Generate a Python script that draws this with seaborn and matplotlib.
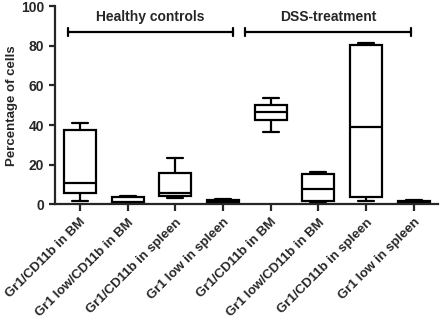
import numpy as np
import pandas as pd
import matplotlib
matplotlib.use("Agg")
import matplotlib.pyplot as plt
import seaborn as sns

# Five-number summaries (min, Q1, median, Q3, max) per population, % of cells
categories = [
    "Gr1/CD11b in BM", "Gr1 low/CD11b in BM", "Gr1/CD11b in spleen", "Gr1 low in spleen",
    "Gr1/CD11b in BM ", "Gr1 low/CD11b in BM ", "Gr1/CD11b in spleen ", "Gr1 low in spleen ",
]
tick_labels = [
    "Gr1/CD11b in BM", "Gr1 low/CD11b in BM", "Gr1/CD11b in spleen", "Gr1 low in spleen",
    "Gr1/CD11b in BM", "Gr1 low/CD11b in BM", "Gr1/CD11b in spleen", "Gr1 low in spleen",
]
hc_bm = [2.0, 5.9, 10.6, 37.5, 41.2]
hc_low_bm = [0.5, 0.8, 1.2, 3.9, 4.5]
hc_spleen = [3.4, 4.2, 5.9, 16.0, 23.4]
hc_low_spleen = [0.5, 0.8, 1.0, 2.2, 2.6]
dss_bm = [36.5, 42.5, 46.4, 49.9, 53.8]
dss_low_bm = [1.0, 1.7, 7.9, 15.5, 16.2]
dss_spleen = [2.0, 3.9, 39.2, 80.2, 81.5]
dss_low_spleen = [0.5, 0.8, 1.3, 1.7, 2.5]
series = [hc_bm, hc_low_bm, hc_spleen, hc_low_spleen,
          dss_bm, dss_low_bm, dss_spleen, dss_low_spleen]

groups = ["Healthy controls", "DSS-treatment"]
group_spans = [(-0.25, 3.2), (3.46, 6.94)]
group_bar_y = 87
group_text_y = 94.5

df = pd.DataFrame({
    "population": [c for c, vals in zip(categories, series) for _ in vals],
    "percent": [v for vals in series for v in vals],
})

sns.set_style("ticks")
plt.rcParams["font.family"] = ["Liberation Sans", "DejaVu Sans"]
plt.rcParams["font.weight"] = "bold"

fig = plt.figure(figsize=(4.4, 3.21), dpi=100)
ax = fig.add_axes([0.124, 0.363, 0.871, 0.618])

sns.boxplot(data=df, x="population", y="percent", order=categories,
            whis=np.inf, width=0.67, color="white", linecolor="black",
            linewidth=1.6, ax=ax)

# Group brackets above the boxes
for name, (x0, x1) in zip(groups, group_spans):
    ax.plot([x0, x1], [group_bar_y, group_bar_y], color="black", lw=1.6,
            solid_capstyle="butt")
    for xe in (x0, x1):
        ax.plot([xe, xe], [group_bar_y - 2, group_bar_y + 2], color="black", lw=1.6)
    ax.text((x0 + x1) / 2, group_text_y, name, ha="center", va="center",
            fontsize=10, fontweight="bold")

ax.set_xlim(-0.53, 7.5)
ax.set_ylim(0, 100)
ax.set_yticks([0, 20, 40, 60, 80, 100])
ax.set_xticks(range(len(categories)))
ax.set_xticklabels(tick_labels, rotation=45, ha="right", rotation_mode="anchor",
                   fontsize=9.5, fontweight="bold")
ax.tick_params(axis="y", labelsize=10, width=1.6, length=4)
ax.tick_params(axis="x", width=1.6, length=5)
for lbl in ax.get_yticklabels():
    lbl.set_fontweight("bold")
ax.set_xlabel("")
ax.set_ylabel("Percentage of cells", fontsize=9.5, fontweight="bold", labelpad=2)
for side in ("top", "right"):
    ax.spines[side].set_visible(False)
for side in ("left", "bottom"):
    ax.spines[side].set_linewidth(1.6)

fig.savefig("out.png", dpi=100)
